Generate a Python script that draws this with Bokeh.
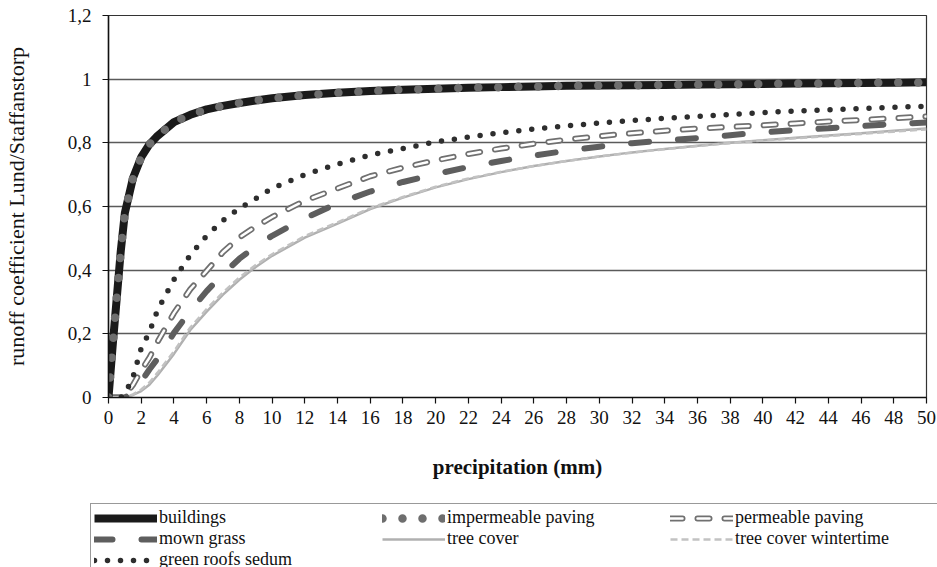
from bokeh.plotting import figure
from bokeh.layouts import column
from bokeh.models import FixedTicker, Legend, LegendItem
from bokeh.embed import file_html
from bokeh.resources import INLINE

precip = [0, 0.25, 0.5, 0.75, 1, 1.5, 2, 2.5, 3, 4, 5, 6, 7, 8, 9, 10, 12, 14, 16, 18,
          20, 22, 24, 26, 28, 30, 32, 34, 36, 38, 40, 42, 44, 46, 48, 50]

buildings = [0, 0.16, 0.31, 0.46, 0.58, 0.69, 0.755, 0.795, 0.822, 0.865, 0.888, 0.905,
             0.916, 0.925, 0.933, 0.94, 0.95, 0.957, 0.963, 0.967, 0.97, 0.973, 0.975,
             0.977, 0.979, 0.98, 0.981, 0.982, 0.983, 0.984, 0.985, 0.986, 0.987, 0.988,
             0.989, 0.99]
impermeable_paving = list(buildings)
permeable_paving = [0, 0, 0, 0, 0.005, 0.04, 0.085, 0.125, 0.175, 0.265, 0.34, 0.398,
                    0.457, 0.503, 0.537, 0.567, 0.618, 0.657, 0.695, 0.722, 0.745, 0.765,
                    0.782, 0.797, 0.81, 0.821, 0.83, 0.838, 0.845, 0.85, 0.855, 0.861,
                    0.867, 0.872, 0.877, 0.883]
mown_grass = [0, 0, 0, 0, 0, 0.015, 0.05, 0.088, 0.122, 0.203, 0.272, 0.334, 0.388, 0.436,
              0.475, 0.508, 0.563, 0.61, 0.647, 0.677, 0.702, 0.724, 0.743, 0.76, 0.775,
              0.788, 0.799, 0.807, 0.815, 0.824, 0.833, 0.84, 0.846, 0.853, 0.859, 0.864]
tree_cover = [0, 0, 0, 0, 0, 0.008, 0.02, 0.04, 0.07, 0.137, 0.212, 0.27, 0.323, 0.37,
              0.41, 0.445, 0.502, 0.546, 0.592, 0.628, 0.66, 0.686, 0.708, 0.727, 0.743,
              0.757, 0.77, 0.781, 0.791, 0.8, 0.808, 0.816, 0.823, 0.83, 0.838, 0.845]
tree_cover_winter = [0, 0, 0, 0, 0, 0.01, 0.025, 0.047, 0.078, 0.145, 0.22, 0.278, 0.33,
                     0.377, 0.416, 0.45, 0.507, 0.55, 0.595, 0.63, 0.662, 0.688, 0.709,
                     0.727, 0.743, 0.757, 0.769, 0.78, 0.79, 0.799, 0.807, 0.814, 0.821,
                     0.828, 0.835, 0.842]
green_roofs_sedum = [0, 0, 0, 0, 0.01, 0.065, 0.155, 0.205, 0.275, 0.37, 0.448, 0.508,
                     0.556, 0.594, 0.625, 0.657, 0.70, 0.733, 0.762, 0.782, 0.803, 0.818,
                     0.832, 0.843, 0.853, 0.862, 0.870, 0.877, 0.883, 0.889, 0.895, 0.900,
                     0.904, 0.908, 0.912, 0.915]

x_ticks = list(range(0, 51, 2))
y_ticks = [0, 0.2, 0.4, 0.6, 0.8, 1.0, 1.2]
y_tick_labels = ["0", "0,2", "0,4", "0,6", "0,8", "1", "1,2"]

FONT = "Liberation Serif"

# line styles per series (used in chart and legend)
STYLES = [
    ("tree cover", tree_cover, [dict(line_color="#b0b0b0", line_width=2.5)]),
    ("tree cover wintertime", tree_cover_winter,
     [dict(line_color="#c2c2c2", line_width=2.5, line_dash="7 4")]),
    ("mown grass", mown_grass,
     [dict(line_color="#5e5e5e", line_width=6, line_dash="18 29", line_cap="round")]),
    ("permeable paving", permeable_paving,
     [dict(line_color="#707070", line_width=6, line_dash="12 15", line_cap="round"),
      dict(line_color="white", line_width=2.5, line_dash="12 15", line_cap="round")]),
    ("green roofs sedum", green_roofs_sedum,
     [dict(line_color="#2e2e2e", line_width=5.5, line_dash="0 13", line_cap="round")]),
    ("buildings", buildings, [dict(line_color="#1a1a1a", line_width=8)]),
    ("impermeable paving", impermeable_paving,
     [dict(line_color="#6e6e6e", line_width=8.5, line_dash="0 20", line_cap="round")]),
]
LEGEND_ORDER = ["buildings", "impermeable paving", "permeable paving", "mown grass",
                "tree cover", "tree cover wintertime", "green roofs sedum"]

p = figure(width=937, height=503, output_backend="svg", toolbar_location=None,
           x_range=(0, 50), y_range=(0, 1.2),
           min_border_left=108, min_border_right=11, min_border_top=15,
           min_border_bottom=106)
p.frame_align = False

p.outline_line_color = "#333333"
p.outline_line_width = 1.2
p.xgrid.visible = False
p.ygrid.ticker = FixedTicker(ticks=y_ticks)
p.ygrid.grid_line_color = "#5a5a5a"
p.ygrid.grid_line_width = 1.3

p.xaxis.ticker = FixedTicker(ticks=x_ticks)
p.yaxis.ticker = FixedTicker(ticks=y_ticks)
p.yaxis.major_label_overrides = {t: l for t, l in zip(y_ticks, y_tick_labels)}
for ax in (p.xaxis[0], p.yaxis[0]):
    ax.axis_line_color = "#111111"
    ax.axis_line_width = 1.5
    ax.major_tick_line_color = "#111111"
    ax.major_tick_line_width = 1.2
    ax.major_tick_out = 6
    ax.major_tick_in = 0
    ax.minor_tick_line_color = None
    ax.major_label_text_font = FONT
    ax.major_label_text_font_size = "19px"
    ax.major_label_text_color = "#111111"
    ax.axis_label_text_font = FONT
    ax.axis_label_text_color = "#111111"

p.yaxis.major_label_standoff = 11
p.xaxis.major_label_standoff = 7
p.xaxis.axis_label = "precipitation (mm)"
p.xaxis.axis_label_text_font_style = "bold"
p.xaxis.axis_label_text_font_size = "21px"
p.xaxis.axis_label_standoff = 28
p.yaxis.axis_label = "runoff coefficient Lund/Staffanstorp"
p.yaxis.axis_label_text_font_style = "normal"
p.yaxis.axis_label_text_font_size = "22px"
p.yaxis.axis_label_standoff = 36

for name, ys, styles in STYLES:
    for st in styles:
        p.line(precip, ys, **st)

# legend strip below the chart: same series, drawn outside its visible range
lg = figure(width=937, height=64, output_backend="svg", toolbar_location=None,
            x_range=(0, 50), y_range=(5, 6), x_axis_type=None, y_axis_type=None,
            min_border_left=90, min_border_right=0, min_border_top=0,
            min_border_bottom=0)
lg.frame_align = False
lg.outline_line_color = None
lg.xgrid.visible = False
lg.ygrid.visible = False

legend_renderers = {}
for name, ys, styles in STYLES:
    legend_renderers[name] = [lg.line(precip, ys, **st) for st in styles]

items = [LegendItem(label=n, renderers=legend_renderers[n]) for n in LEGEND_ORDER]
legend = Legend(items=items, orientation="horizontal", ncols=3,
                location=(0, -7),
                glyph_width=63, glyph_height=20, label_standoff=2,
                label_width=223, label_height=20, spacing=0, padding=3,
                margin=0,
                label_text_font=FONT, label_text_font_size="18px",
                label_text_color="#111111",
                border_line_color="#333333", border_line_width=1.5,
                background_fill_color="white", background_fill_alpha=1)
lg.add_layout(legend, "center")

layout = column(p, lg, spacing=0)
open("out.html", "w").write(file_html(layout, INLINE))
